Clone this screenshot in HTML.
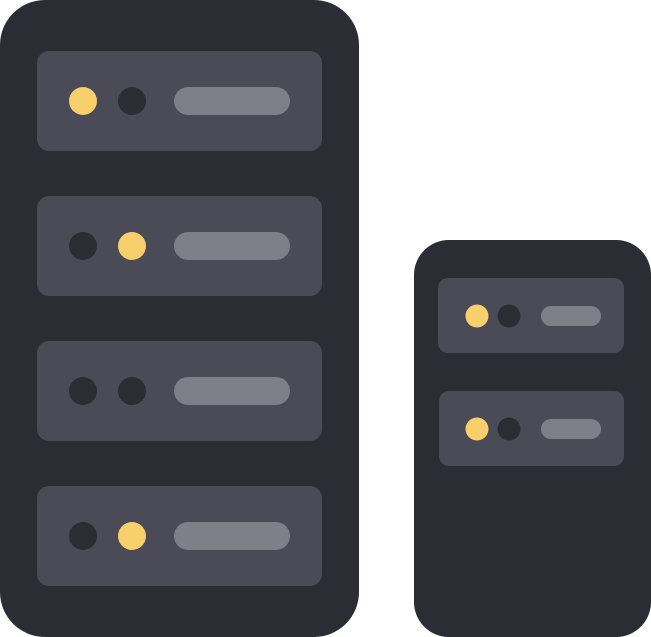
<!DOCTYPE html>
<html><head><meta charset="utf-8"><style>
html,body{margin:0;padding:0;background:#fff;width:651px;height:637px;overflow:hidden}
svg{display:block}
</style></head><body>
<svg width="651" height="637" viewBox="0 0 651 637" xmlns="http://www.w3.org/2000/svg">
<rect x="0" y="0" width="359" height="637" rx="45" fill="#2c2c34"/>
<g fill="#4b4b57">
<rect x="37" y="51" width="285" height="100" rx="12"/>
<rect x="37" y="196" width="285" height="100" rx="12"/>
<rect x="37" y="341" width="285" height="100" rx="12"/>
<rect x="37" y="486" width="285" height="100" rx="12"/>
</g>
<g fill="#7f7f89">
<rect x="174" y="87" width="116" height="28" rx="14"/>
<rect x="174" y="232" width="116" height="28" rx="14"/>
<rect x="174" y="377" width="116" height="28" rx="14"/>
<rect x="174" y="522" width="116" height="28" rx="14"/>
</g>
<circle cx="83" cy="101" r="14" fill="#f7d06b"/>
<circle cx="132" cy="101" r="14" fill="#2c2c34"/>
<circle cx="83" cy="246" r="14" fill="#2c2c34"/>
<circle cx="132" cy="246" r="14" fill="#f7d06b"/>
<circle cx="83" cy="391" r="14" fill="#2c2c34"/>
<circle cx="132" cy="391" r="14" fill="#2c2c34"/>
<circle cx="83" cy="536" r="14" fill="#2c2c34"/>
<circle cx="132" cy="536" r="14" fill="#f7d06b"/>

<rect x="414" y="240" width="237" height="397" rx="35" fill="#2c2c34"/>
<rect x="438" y="278" width="186" height="75" rx="10" fill="#4b4b57"/>
<rect x="439" y="391" width="185" height="75" rx="10" fill="#4b4b57"/>
<rect x="541" y="306" width="60" height="20" rx="10" fill="#7f7f89"/>
<rect x="541" y="419" width="60" height="20" rx="10" fill="#7f7f89"/>
<circle cx="477" cy="316" r="11.5" fill="#f7d06b"/>
<circle cx="509" cy="316" r="11.5" fill="#2c2c34"/>
<circle cx="477" cy="429" r="11.5" fill="#f7d06b"/>
<circle cx="509" cy="429" r="11.5" fill="#2c2c34"/>
</svg>
</body></html>
